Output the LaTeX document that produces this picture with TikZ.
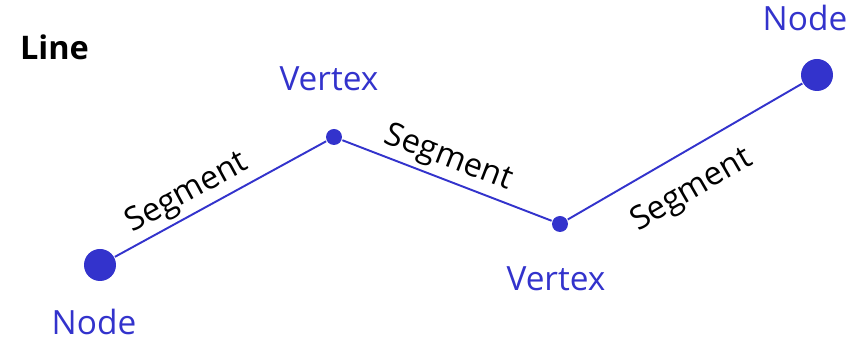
\documentclass[tikz,border=0pt]{standalone}
\usepackage{fontspec}
\setmainfont{Open Sans}
\usetikzlibrary{positioning}
\definecolor{lineblue}{RGB}{51,51,204}

\begin{document}
\begin{tikzpicture}[x=0.02cm, y=-0.02cm, line width=1.1pt, draw=lineblue,
    endpt/.style={circle, fill=lineblue, inner sep=0pt, minimum size=0.64cm},
    vert/.style={circle, fill=lineblue, inner sep=0pt, minimum size=0.32cm},
    lbl/.style={text=lineblue, inner sep=0pt, font=\fontsize{19}{22}\selectfont},
    seg/.style={text=black, sloped, font=\fontsize{18.5}{22}\selectfont}]
    \useasboundingbox (0,0) rectangle (867,340);
    \node[text=black, inner sep=0pt, font=\bfseries\fontsize{18.5}{22}\selectfont] (title) at (54.5,47) {Line};

    \node[endpt] (n1) at (100,265) {};
    \node[vert] (v1) at (334,137) {};
    \node[vert] (v2) at (560,224) {};
    \node[endpt] (n2) at (817,75) {};

    \node[lbl, below=0.53cm of n1, xshift=-0.12cm] (ln1) {Node};
    \node[lbl, above=0.72cm of v1, xshift=-0.1cm] (lv1) {Vertex};
    \node[lbl, below=0.66cm of v2, xshift=-0.08cm] (lv2) {Vertex};
    \node[lbl, above=0.53cm of n2, xshift=-0.24cm] (ln2) {Node};

    \draw (n1) -- node[seg, pos=0.39, above=-1pt] {Segment} (v1);
    \draw (v1) -- node[seg, pos=0.47, above=-1pt] {Segment} (v2);
    \draw (v2) -- node[seg, pos=0.45, below=0.3cm] {Segment} (n2);
\end{tikzpicture}
\end{document}
